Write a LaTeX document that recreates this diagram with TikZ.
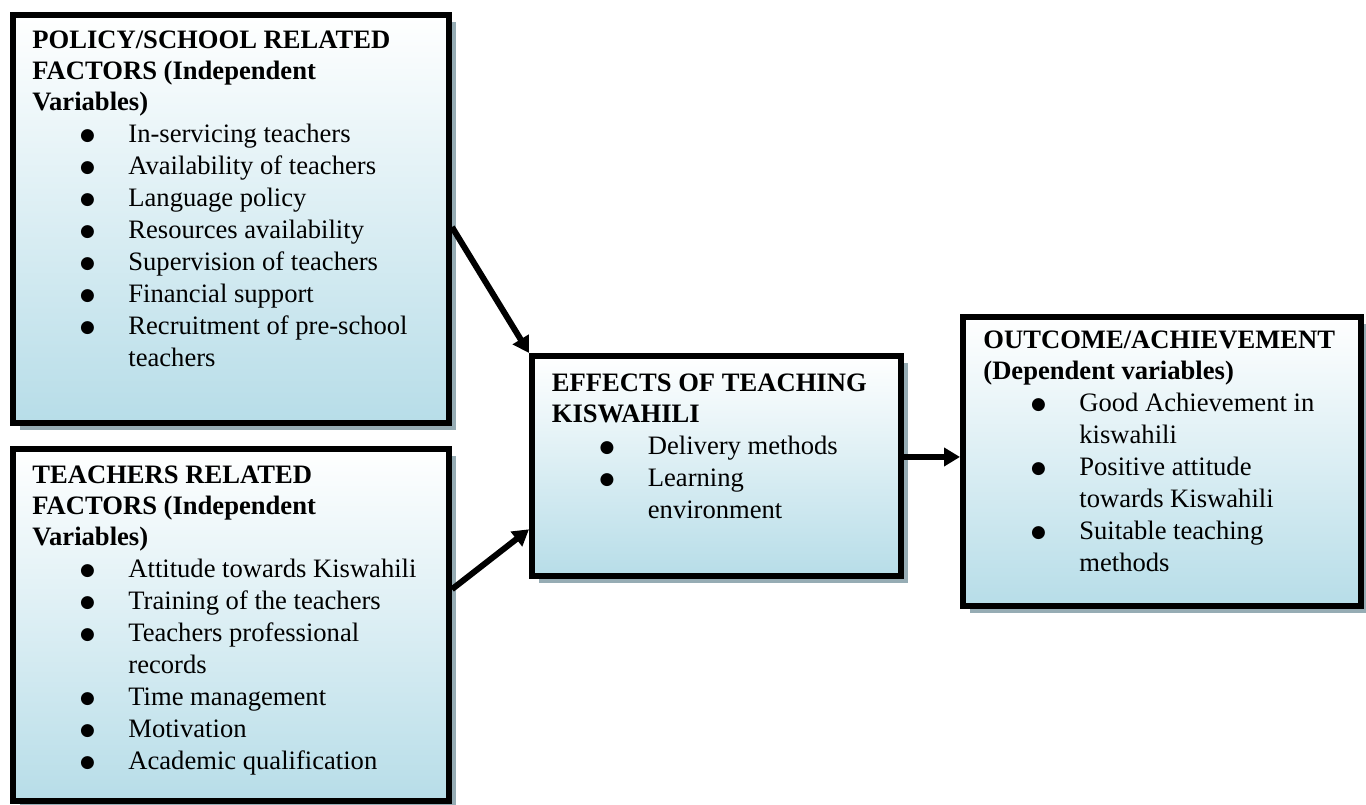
\documentclass[tikz,border=0pt]{standalone}
\usepackage{fontspec}
\setmainfont{Liberation Serif}
\newfontfamily\dejavu{DejaVu Sans}
\usetikzlibrary{shadows,arrows.meta,calc}
\definecolor{boxblue}{RGB}{183,221,232}
\definecolor{shadowcol}{RGB}{150,172,180}
\newcommand{\bul}{\raisebox{0.7pt}{\dejavu\fontsize{8.5}{8.5}\selectfont ●}}
\newcommand{\itm}[1]{\hspace*{23.9pt}\makebox[24.1pt][l]{\bul}#1}
\newcommand{\cnt}[1]{\hspace*{48pt}#1}
\begin{document}
\begin{tikzpicture}[x=0.5pt,y=-0.5pt,
  box/.style={draw=black, line width=3pt, top color=white, bottom color=boxblue,
    inner sep=0pt, anchor=north west,
    drop shadow={shadow xshift=3.5pt, shadow yshift=-3.5pt, fill=shadowcol, opacity=1}},
  txt/.style={anchor=north west, inner sep=0pt, align=left, font=\fontsize{13.3}{16}\selectfont},
  arr/.style={line width=3pt, -{Triangle[length=8pt,width=9pt]}}]
\useasboundingbox (0,0) rectangle (1366,804);

\node[box, minimum width=218.25pt, minimum height=204.25pt] (b1) at (9.5,11.5) {};
\node[box, minimum width=218.25pt, minimum height=176pt] (b2) at (9.5,446) {};
\node[box, minimum width=184.5pt, minimum height=110pt] (b3) at (529,353) {};
\node[box, minimum width=199pt, minimum height=144.5pt] (b4) at (960,314) {};

\node[txt] (t1) at (32,24) {\rule{0pt}{12pt}\textbf{POLICY/SCHOOL RELATED}\\[-0.6pt]
\textbf{FACTORS (Independent}\\[-0.6pt]
\textbf{Variables)}\\
\itm{In-servicing teachers}\\
\itm{Availability of teachers}\\
\itm{Language policy}\\
\itm{Resources availability}\\
\itm{Supervision of teachers}\\
\itm{Financial support}\\
\itm{Recruitment of pre-school}\\
\cnt{teachers}};

\node[txt] (t2) at (32,459) {\rule{0pt}{12pt}\textbf{TEACHERS RELATED}\\[-0.6pt]
\textbf{FACTORS (Independent}\\[-0.6pt]
\textbf{Variables)}\\
\itm{Attitude towards Kiswahili}\\
\itm{Training of the teachers}\\
\itm{Teachers professional}\\
\cnt{records}\\
\itm{Time management}\\
\itm{Motivation}\\
\itm{Academic qualification}};

\node[txt] (t3) at (551.5,367) {\rule{0pt}{12pt}\textbf{EFFECTS OF TEACHING}\\[-0.6pt]
\textbf{KISWAHILI}\\
\itm{Delivery methods}\\
\itm{Learning}\\
\cnt{environment}};

\node[txt] (t4) at (983,324) {\rule{0pt}{12pt}\textbf{OUTCOME/ACHIEVEMENT}\\[-0.6pt]
\textbf{(Dependent variables)}\\
\itm{Good Achievement in}\\
\cnt{kiswahili}\\
\itm{Positive attitude}\\
\cnt{towards Kiswahili}\\
\itm{Suitable teaching}\\
\cnt{methods}};

\draw[arr] ($(b1.north east)!0.52!(b1.south east)$) -- (b3.north west);
\draw[arr] ($(b2.north east)!0.40!(b2.south east)$) -- ($(b3.north west)!0.78!(b3.south west)$);
\coordinate (p3) at ($(b3.north east)!0.46!(b3.south east)$);
\draw[arr] (p3) -- (p3 -| b4.west);
\end{tikzpicture}
\end{document}
